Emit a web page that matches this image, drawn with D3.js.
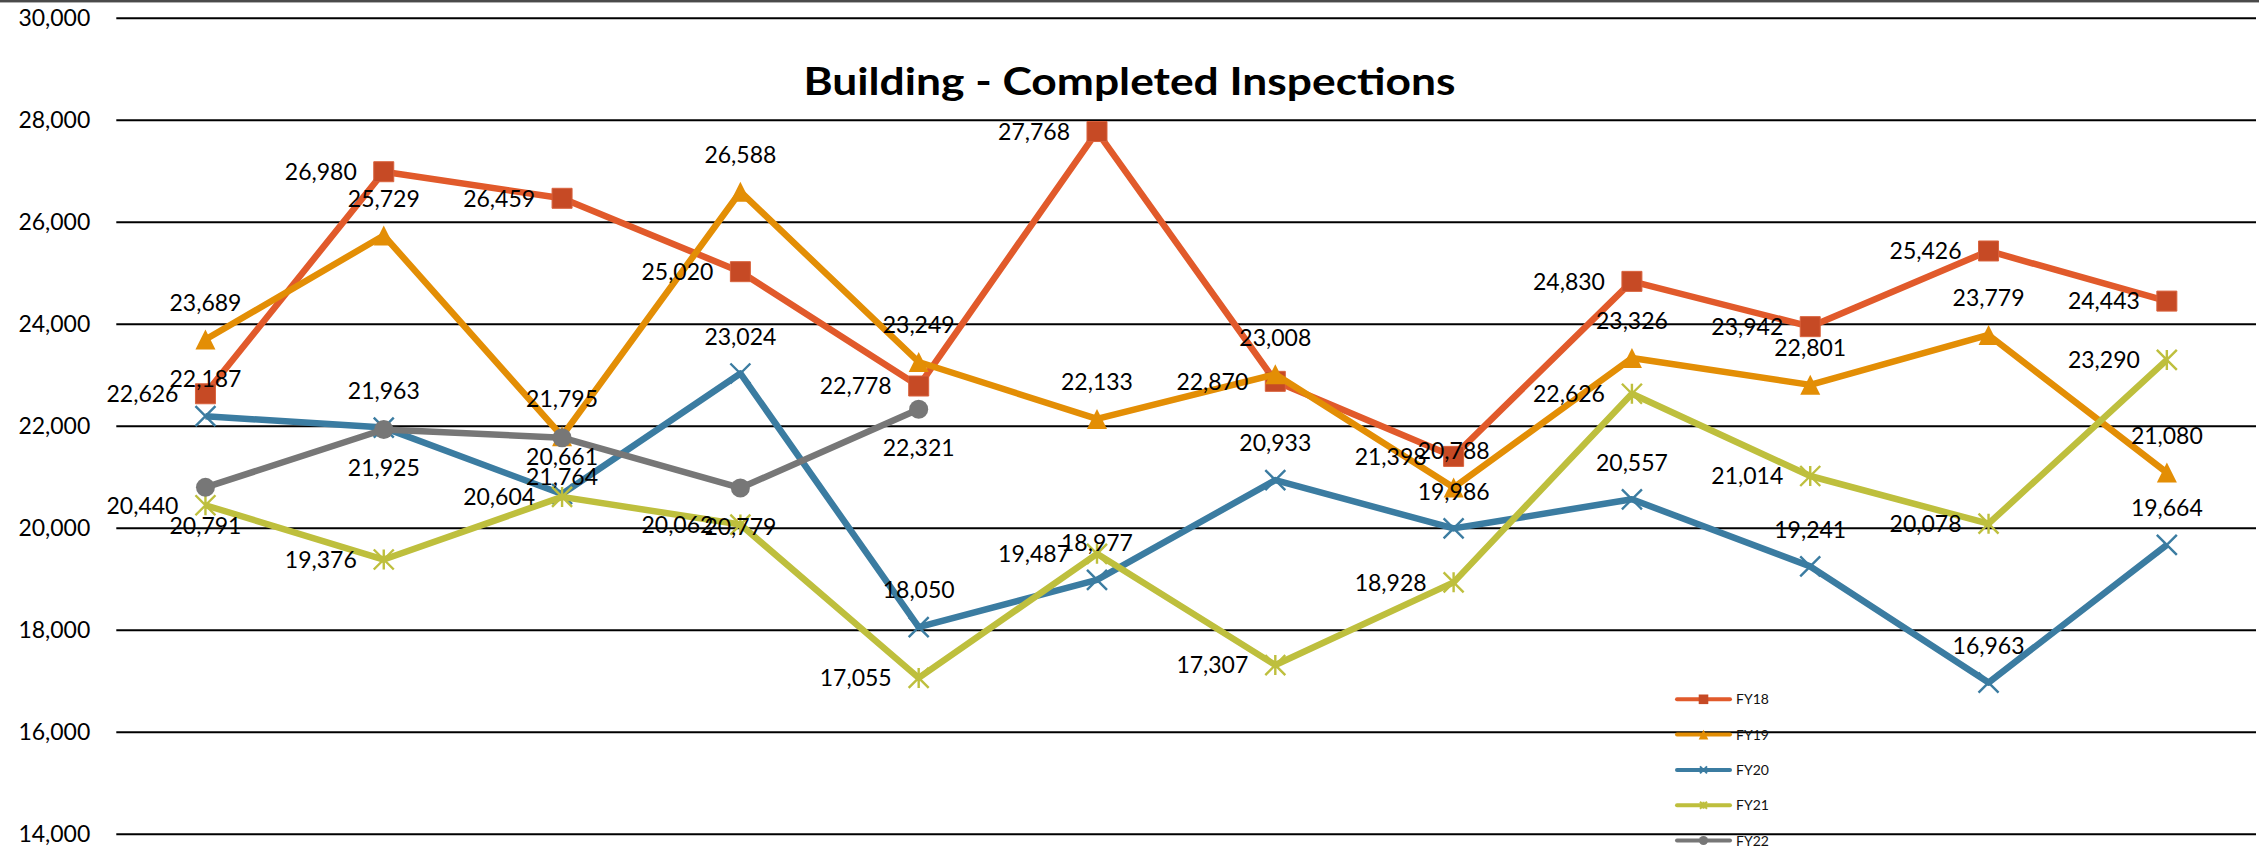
<!DOCTYPE html>
<html>
<head>
<meta charset="utf-8">
<script src="https://cdn.jsdelivr.net/npm/d3@7"></script>
<style>
body { margin: 0; background: #fff; }
svg { display: block; font-family: Lato, "Open Sans", sans-serif; }
</style>
</head>
<body>
<svg id="chart" width="2259" height="848"></svg>
<script>
// fiscal year months (not drawn on the chart, just the category slots)
var months = ['Jul', 'Aug', 'Sep', 'Oct', 'Nov', 'Dec', 'Jan', 'Feb', 'Mar', 'Apr', 'May', 'Jun'];

var fy18 = [22626, 26980, 26459, 25020, 22778, 27768, 22870, 21398, 24830, 23942, 25426, 24443];
var fy19 = [23689, 25729, 21795, 26588, 23249, 22133, 23008, 20788, 23326, 22801, 23779, 21080];
var fy20 = [22187, 21963, 20661, 23024, 18050, 18977, 20933, 19986, 20557, 19241, 16963, 19664];
var fy21 = [20440, 19376, 20604, 20062, 17055, 19487, 17307, 18928, 22626, 21014, 20078, 23290];
var fy22 = [20791, 21925, 21764, 20779, 22321, null, null, null, null, null, null, null];

var seriesNames = ['FY18', 'FY19', 'FY20', 'FY21', 'FY22'];
var yTicks = [14000, 16000, 18000, 20000, 22000, 24000, 26000, 28000, 30000];
var title = 'Building - Completed Inspections';

var W = 2259, H = 848;
var left = 116.3, right = 2256;

var series = [
	{ name: seriesNames[0], values: fy18, color: '#e15a2b', fill: '#c64a25', marker: 'square', label: 'left' },
	{ name: seriesNames[1], values: fy19, color: '#e38e05', fill: '#e38e05', marker: 'triangle', label: 'above' },
	{ name: seriesNames[2], values: fy20, color: '#3b7ca1', fill: '#3b7ca1', marker: 'x', label: 'above' },
	{ name: seriesNames[3], values: fy21, color: '#bebf3d', fill: '#bebf3d', marker: 'star', label: 'left' },
	{ name: seriesNames[4], values: fy22, color: '#777777', fill: '#777777', marker: 'circle', label: 'below' }
];

var svg = d3.select('#chart');

var x = d3.scalePoint().domain(months).range([left, right]).padding(0.5);
var y = d3.scaleLinear().domain([14000, 30000]).range([833.7, 17.7]);

// top frame edge
svg.append('rect').attr('x', 0).attr('y', 0).attr('width', W).attr('height', 2).attr('fill', '#4a4a4a');
svg.append('rect').attr('x', 0).attr('y', 2).attr('width', W).attr('height', 1).attr('fill', '#b0b0b0');

// gridlines + tick labels
var yAxis = d3.axisLeft(y)
	.tickValues(yTicks)
	.tickSize(-(right - left))
	.tickPadding(26)
	.tickFormat(d3.format(','));

var ax = svg.append('g').attr('transform', 'translate(' + left + ',0)').call(yAxis);
ax.select('.domain').remove();
ax.selectAll('.tick line').attr('stroke', '#000').attr('stroke-width', 2);
ax.selectAll('.tick text')
	.attr('fill', '#000')
	.attr('font-size', 23)
	.attr('font-family', 'Lato, sans-serif')
	.attr('dy', '0.36em');

// title (stretched to the width it takes in the original)
svg.append('text')
	.attr('x', W / 2)
	.attr('y', 95)
	.attr('text-anchor', 'middle')
	.attr('font-size', 38)
	.attr('font-weight', 'bold')
	.attr('fill', '#000')
	.attr('textLength', 652)
	.attr('lengthAdjust', 'spacingAndGlyphs')
	.text(title);

function markerPath(kind, r)
{
	var p = d3.path();
	if (kind === 'square')
	{
		p.rect(-r, -r, 2 * r, 2 * r);
	}
	else if (kind === 'triangle')
	{
		p.moveTo(0, -r);
		p.lineTo(r, r);
		p.lineTo(-r, r);
		p.closePath();
	}
	else if (kind === 'circle')
	{
		p.arc(0, 0, r * 0.95, 0, 2 * Math.PI);
	}
	else if (kind === 'x')
	{
		p.moveTo(-r, -r); p.lineTo(r, r);
		p.moveTo(r, -r); p.lineTo(-r, r);
	}
	else if (kind === 'star')
	{
		p.moveTo(-r, -r); p.lineTo(r, r);
		p.moveTo(r, -r); p.lineTo(-r, r);
		p.moveTo(0, -r); p.lineTo(0, r);
	}
	return p.toString();
}

function isStroked(kind)
{
	return kind === 'x' || kind === 'star';
}

function pts(s)
{
	var out = [];
	for (var i = 0; i < s.values.length; i++)
	{
		if (s.values[i] != null)
		{
			out.push({ cat: months[i], v: s.values[i], s: s });
		}
	}
	return out;
}

var line = d3.line()
	.x(d => x(d.cat))
	.y(d => y(d.v));

// lines and markers, later series on top
series.forEach(function(s) {
	var g = svg.append('g');
	var data = pts(s);
	g.append('path')
		.attr('d', line(data))
		.attr('fill', 'none')
		.attr('stroke', s.color)
		.attr('stroke-width', 6.5)
		.attr('stroke-linejoin', 'round');
	g.selectAll('path.m').data(data).enter().append('path')
		.attr('class', 'm')
		.attr('transform', d => 'translate(' + x(d.cat) + ',' + y(d.v) + ')')
		.attr('d', markerPath(s.marker, 10))
		.attr('fill', isStroked(s.marker) ? 'none' : s.fill)
		.attr('stroke', isStroked(s.marker) ? s.fill : (s.marker === 'square' ? '#d9623c' : 'none'))
		.attr('stroke-width', isStroked(s.marker) ? 2.4 : 1);
});

// data labels on top of everything
var fmt = d3.format(',');
series.forEach(function(s) {
	var data = pts(s);
	var t = svg.append('g').selectAll('text').data(data).enter().append('text')
		.attr('font-size', 23)
		.attr('fill', '#000')
		.attr('dy', '0.36em')
		.text(d => fmt(d.v));
	if (s.label === 'left')
	{
		t.attr('x', d => x(d.cat) - 27).attr('y', d => y(d.v)).attr('text-anchor', 'end');
	}
	else if (s.label === 'above')
	{
		t.attr('x', d => x(d.cat)).attr('y', d => y(d.v) - 37).attr('text-anchor', 'middle');
	}
	else
	{
		t.attr('x', d => x(d.cat)).attr('y', d => y(d.v) + 38.5).attr('text-anchor', 'middle');
	}
});

// legend
var lg = svg.append('g').attr('transform', 'translate(1677,699.3)');
series.forEach(function(s, i) {
	var row = lg.append('g').attr('transform', 'translate(0,' + (i * 35.3) + ')');
	row.append('line')
		.attr('x1', 0).attr('x2', 53)
		.attr('stroke', s.color)
		.attr('stroke-width', 4)
		.attr('stroke-linecap', 'round');
	row.append('path')
		.attr('transform', 'translate(26.5,0)')
		.attr('d', markerPath(s.marker, s.marker === 'x' || s.marker === 'star' ? 3.5 : 4.8))
		.attr('fill', isStroked(s.marker) ? 'none' : s.fill)
		.attr('stroke', isStroked(s.marker) ? s.fill : 'none')
		.attr('stroke-width', 2);
	row.append('text')
		.attr('x', 59)
		.attr('dy', '0.36em')
		.attr('font-size', 14)
		.attr('fill', '#111')
		.text(s.name);
});
</script>
</body>
</html>
